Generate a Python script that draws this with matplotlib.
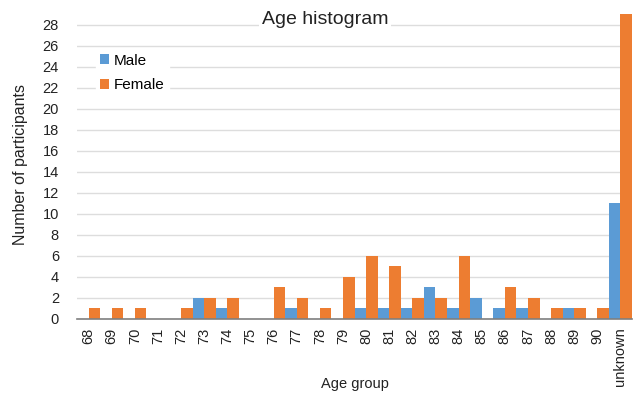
import matplotlib
matplotlib.use("Agg")
import matplotlib.pyplot as plt
import numpy as np

categories = ["68", "69", "70", "71", "72", "73", "74", "75", "76", "77", "78", "79",
              "80", "81", "82", "83", "84", "85", "86", "87", "88", "89", "90", "unknown"]
male = [0, 0, 0, 0, 0, 2, 1, 0, 0, 1, 0, 0, 1, 1, 1, 3, 1, 2, 1, 1, 0, 1, 0, 11]
female = [1, 1, 1, 0, 1, 2, 2, 0, 3, 2, 1, 4, 6, 5, 2, 2, 6, 0, 3, 2, 1, 1, 1, 29]
yticks = list(range(0, 29, 2))

plt.rcParams['font.family'] = ['Liberation Sans', 'DejaVu Sans']

fig = plt.figure(figsize=(6.44, 3.93), dpi=100)
ax = fig.add_axes([77/644, 1 - 319/393, (632 - 77)/644, (319 - 14)/393])

x = np.arange(len(categories))
w = 0.5
ax.bar(x - w/2, male, width=w, color="#5B9BD5", label="Male", zorder=3)
ax.bar(x + w/2, female, width=w, color="#ED7D31", label="Female", zorder=3)

ax.set_xlim(-0.5, len(categories) - 0.5)
ax.set_ylim(0, 29)
ax.set_yticks(yticks)
ax.set_xticks(x)
ax.set_xticklabels(categories, rotation=90)
ax.tick_params(axis="both", length=0, labelsize=10.5, colors="#222222")
ax.tick_params(axis="y", pad=13)
ax.tick_params(axis="x", pad=6)
ax.grid(axis="y", color="#DDDDDD", linewidth=1, zorder=0)
for s in ["top", "right", "left"]:
    ax.spines[s].set_visible(False)
ax.spines["bottom"].set_color("#7F7F7F")
ax.spines["bottom"].set_linewidth(1.2)
ax.spines["bottom"].set_zorder(4)

fig.text(355/644, 1 - 384/393, "Age group", ha="center", va="center",
         fontsize=10.5, color="#222222")
fig.text(21/644, 1 - 165/393, "Number of participants", ha="center", va="center",
         rotation=90, fontsize=11.5, color="#222222")
fig.text(325/644, 1 - 20/393, "Age histogram", ha="center", va="center",
         fontsize=14, color="#222222", zorder=6,
         bbox=dict(facecolor="white", edgecolor="none", pad=2))

leg = ax.legend(loc="upper left", bbox_to_anchor=(0.02, 0.91), frameon=True,
                fontsize=11, handlelength=0.6, handleheight=0.6, handletextpad=0.3,
                labelspacing=0.7, borderpad=0.3)
leg.get_frame().set_edgecolor("white")
leg.get_frame().set_facecolor("white")
leg.get_frame().set_alpha(1)
leg.set_zorder(5)

fig.savefig("out.png", dpi=100)
